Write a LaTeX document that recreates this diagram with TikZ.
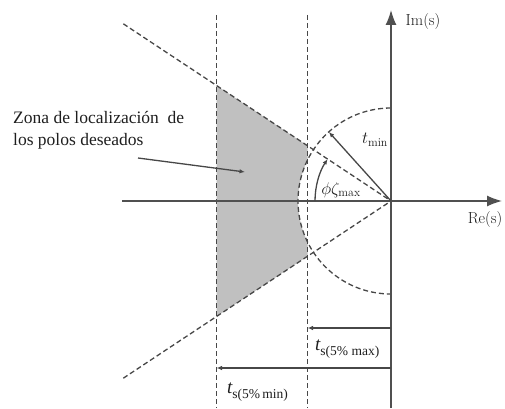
\documentclass[tikz,border=0pt]{standalone}
\usepackage{fix-cm}
\usepackage{fontspec}
\newfontfamily\tnr{Liberation Serif}
\usetikzlibrary{arrows.meta}
\definecolor{ln}{HTML}{474747}
\definecolor{ax}{HTML}{505050}
\definecolor{zone}{HTML}{c0c0c0}
\definecolor{txt}{HTML}{1e1e1e}
\newcommand{\tslab}[1]{{\fontsize{19}{19}\selectfont\itshape t}\raisebox{-4.5pt}{\fontsize{13.5}{13.5}\selectfont #1}}
\begin{document}
\begin{tikzpicture}[x=1pt,y=1pt,
  dsh/.style={draw=ln, line width=1.3pt, dash pattern=on 5pt off 3pt},
  axisline/.style={draw=ax, line width=1.4pt, -{Latex[length=15pt,width=11pt]}},
  arr/.style={draw=ln, line width=1.3pt, -{Latex[length=5.5pt,width=4.5pt]}},
  lbl/.style={inner sep=0pt, text=txt},
  zonetxt/.style={lbl, anchor=base west, font=\tnr\fontsize{17.5}{22}\selectfont}]
\useasboundingbox (0,0) rectangle (505,408);
% key points
\coordinate (O) at (391,207);
\coordinate (A) at (216.5,322.5);
\coordinate (B) at (307.5,262.3);
\coordinate (C) at (307.5,247.95);
\coordinate (E) at (307.5,151.7);
\coordinate (F) at (216.5,91.5);
% shaded zone
\fill[zone] (A) -- (B) -- (C) arc[start angle=153.88,end angle=206.12,radius=93] -- (E) -- (F) -- cycle;
% vertical dashed lines
\coordinate (V1t) at (216.5,393);
\coordinate (V1b) at (216.5,0);
\coordinate (V2t) at (307.5,393);
\coordinate (V2b) at (307.5,0);
\draw[dsh] (V1t) -- (V1b);
\draw[dsh] (V2t) -- (V2b);
% cone lines
\coordinate (U) at (123.3,384.2);
\coordinate (L) at (123.3,29.8);
\draw[dsh] (U) -- (O);
\draw[dsh] (L) -- (O);
% circle
\coordinate (CT) at (391,300);
\draw[dsh] (CT) arc[start angle=90,end angle=270,radius=93];
% axes
\coordinate (ImB) at (391,0);
\coordinate (ImT) at (391,398);
\coordinate (ReL) at (122,207);
\coordinate (ReR) at (502,207);
\draw[axisline] (ImB) -- (ImT);
\draw[axisline] (ReL) -- (ReR);
% t_min arrow
\coordinate (Tm) at (328.8,276.1);
\draw[arr] (O) -- (Tm);
% angle arc
\coordinate (P1) at (315,207);
\draw[arr] (P1) arc[start angle=180,end angle=146.5,radius=76];
% labels
\node[lbl, font=\fontsize{16}{16}\selectfont] (im) at (423,386) {Im(s)};
\node[lbl, font=\fontsize{16}{16}\selectfont] (re) at (485,188) {Re(s)};
\node[lbl, font=\fontsize{17}{17}\selectfont] (tmin) at (375,268) {$t_{\min}$};
\node[lbl, font=\fontsize{17}{17}\selectfont] (phi) at (341,218) {$\phi\zeta_{\max}$};
% zone text
\node[zonetxt] (z1) at (13,285) {Zona de localización\ \ de};
\node[zonetxt] (z2) at (13,263) {los polos deseados};
\coordinate (zs) at (138,250);
\coordinate (ze) at (245,236);
\draw[arr] (zs) -- (ze);
% settling time arrows
\coordinate (S1a) at (391,80);
\coordinate (S1b) at (307.5,80);
\coordinate (S2a) at (391,40);
\coordinate (S2b) at (216.5,40);
\draw[arr] (S1a) -- (S1b);
\draw[arr] (S2a) -- (S2b);
\node[lbl, font=\tnr, anchor=west] (tsmax) at (315,59) {\tslab{s(5\% max)}};
\node[lbl, font=\tnr, anchor=west] (tsmin) at (227,16) {\tslab{s(5\%\,min)}};
\end{tikzpicture}
\end{document}
